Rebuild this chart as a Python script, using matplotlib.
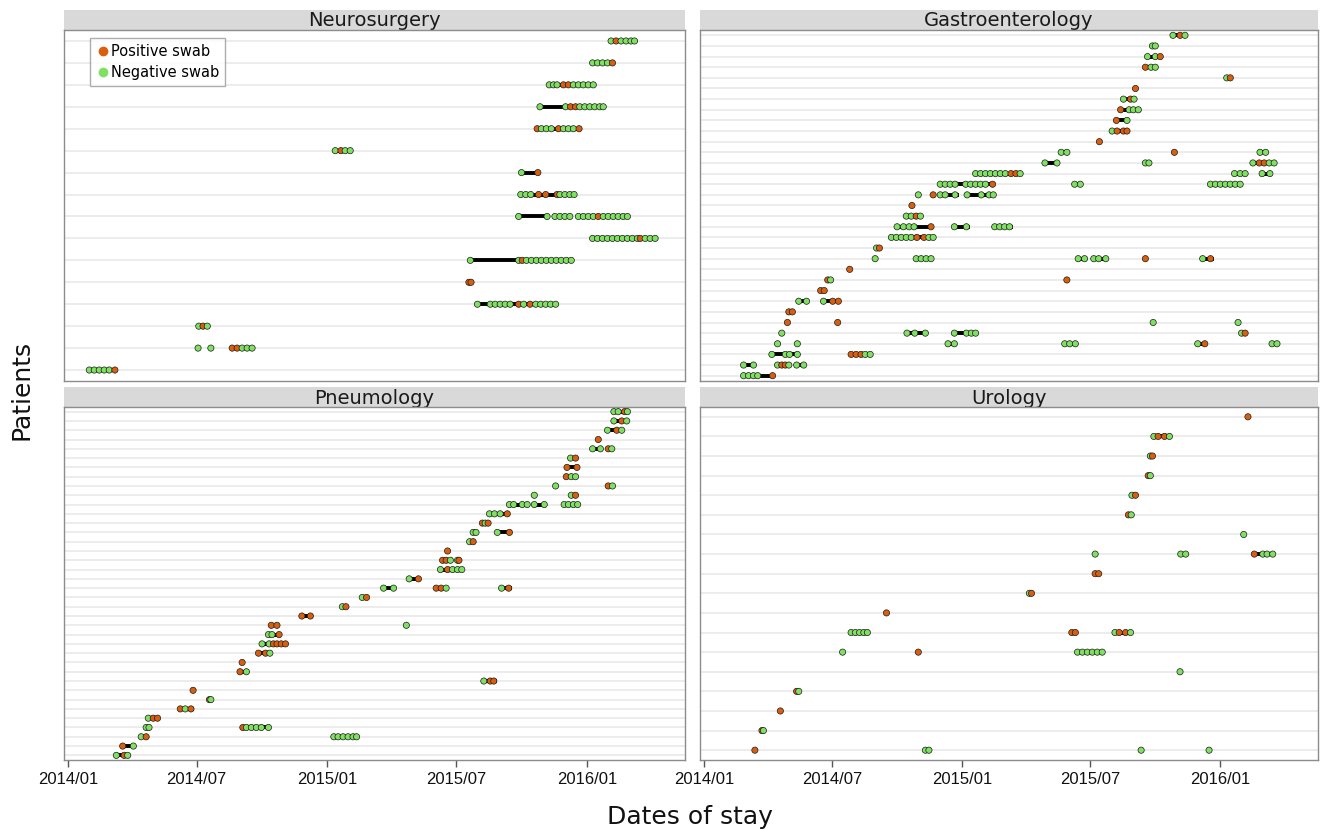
import numpy as np
import pandas as pd
import matplotlib
matplotlib.use("Agg")
import matplotlib.pyplot as plt
import matplotlib.dates as mdates
from matplotlib.lines import Line2D

# ---------------- data (days since 2014-01-01) ----------------
BASE = pd.Timestamp("2014-01-01")

# Neurosurgery
neuro_rows = 16
neuro_stays = [(1, 30, 66), (2, 231, 259), (3, 184, 196), (4, 576, 688), (6, 566, 711),
               (7, 738, 826), (8, 634, 674), (8, 684, 707), (8, 717, 787), (9, 636, 714),
               (10, 638, 663), (11, 375, 400), (12, 659, 720), (13, 663, 753),
               (14, 676, 741), (15, 736, 769), (16, 763, 798)]
neuro_pos = {1: [66], 2: [231, 238], 3: [190], 4: [634, 650], 5: [564, 567], 6: [639],
             7: [805], 8: [746], 9: [662, 672, 688], 10: [661], 11: [384],
             12: [660, 690, 719], 13: [707, 714], 14: [697, 704], 15: [766], 16: [771]}
neuro_neg = {1: [30, 37, 44, 51, 58], 2: [183, 201, 245, 252, 259], 3: [184, 196],
             4: [576, 594, 601, 608, 615, 622, 641, 658, 665, 672, 679, 686],
             6: [566, 634, 645, 652, 659, 666, 673, 680, 687, 694, 701, 708],
             7: [738, 745, 752, 759, 766, 773, 780, 787, 794, 801, 812, 819, 826],
             8: [634, 674, 685, 692, 699, 706, 718, 725, 732, 739, 753, 760, 767, 774, 781, 787],
             9: [637, 644, 651, 692, 699, 706, 712], 10: [638], 11: [376, 390, 397],
             12: [666, 673, 680, 697, 704, 711],
             13: [664, 700, 720, 727, 734, 741, 748, 753],
             14: [677, 683, 688, 711, 718, 725, 732, 739],
             15: [738, 745, 752, 759], 16: [764, 778, 785, 792, 797]}

# Gastroenterology
gastro_rows = 33
gastro_stays = [(1, 55, 99), (2, 55, 72), (2, 103, 121), (2, 130, 142), (3, 94, 134), (3, 207, 238),
                (4, 344, 358), (4, 508, 528), (4, 697, 711), (4, 801, 812), (5, 286, 317),
                (5, 353, 387), (5, 760, 765), (7, 118, 127), (8, 132, 146), (8, 168, 193),
                (9, 165, 170), (10, 175, 179), (12, 299, 324), (12, 528, 541), (12, 549, 569),
                (12, 704, 721), (13, 244, 248), (14, 263, 325), (15, 272, 324), (15, 353, 376),
                (15, 410, 437), (16, 284, 308), (18, 332, 360), (18, 370, 410), (19, 332, 411),
                (19, 524, 532), (19, 714, 759), (20, 383, 449), (20, 749, 766), (20, 787, 801),
                (21, 480, 501), (21, 624, 629), (21, 774, 808), (22, 505, 513), (22, 784, 796),
                (24, 577, 601), (25, 582, 600), (26, 587, 618), (27, 591, 610), (29, 739, 744),
                (30, 624, 638), (31, 627, 648), (32, 634, 638), (33, 662, 681)]
gastro_pos = {1: [97], 2: [110, 115], 3: [208, 215, 222], 4: [708], 5: [765], 6: [118, 189],
              7: [120, 125], 8: [182, 190], 9: [165, 170], 10: [175, 513], 11: [206],
              12: [624, 716], 13: [248], 14: [301, 311], 15: [321], 16: [300], 17: [294],
              18: [324], 19: [408], 20: [434, 441], 21: [785, 792], 22: [665], 23: [559],
              24: [584, 593, 598], 25: [583], 26: [589], 27: [603], 28: [610], 29: [744],
              30: [624], 31: [645], 33: [673]}
gastro_neg = {1: [56, 63, 70, 76], 2: [56, 70, 104, 120, 131, 141], 3: [96, 115, 121, 132, 228, 235],
              4: [104, 132, 345, 354, 510, 517, 525, 698, 803, 810],
              5: [110, 287, 298, 313, 354, 371, 378, 384, 760], 6: [635, 755],
              8: [134, 145, 169], 10: [179], 12: [242, 300, 307, 314, 321, 529, 538, 551, 558, 568, 705],
              13: [244], 14: [265, 272, 279, 286, 293, 318, 324],
              15: [273, 282, 290, 297, 354, 371, 411, 418, 425, 432], 16: [286, 293, 306],
              18: [303, 334, 341, 355, 372, 392, 403, 409],
              19: [334, 341, 348, 355, 370, 377, 384, 391, 398, 524, 532, 716, 723, 730, 737, 744, 751, 758],
              20: [384, 391, 398, 405, 412, 419, 426, 447, 750, 758, 765, 789, 800],
              21: [482, 499, 624, 629, 776, 799, 806], 22: [505, 513, 786, 794],
              24: [577], 25: [598], 26: [601, 607, 614], 27: [593, 608], 29: [739],
              30: [632, 638], 31: [627, 638], 32: [634, 638], 33: [663, 680]}

# Pneumology
pneumo_rows = 38
pneumo_stays = [(1, 66, 87), (2, 76, 94), (3, 101, 113), (3, 373, 406), (4, 110, 114), (4, 245, 284),
                (5, 111, 128), (6, 156, 177), (9, 584, 603), (10, 241, 253), (12, 266, 286),
                (13, 272, 308), (14, 280, 300), (16, 328, 344), (19, 442, 462), (19, 517, 535),
                (19, 608, 624), (20, 479, 497), (21, 522, 555), (22, 525, 542), (25, 570, 574),
                (25, 603, 624), (26, 583, 591), (27, 591, 622), (28, 620, 649), (28, 655, 673),
                (28, 697, 718), (31, 698, 717), (32, 701, 718), (34, 736, 753), (36, 757, 781),
                (37, 767, 788), (38, 767, 788)]
pneumo_pos = {1: [79], 2: [77], 3: [110], 4: [246], 5: [120, 126], 6: [158, 173], 7: [199],
              8: [176], 9: [594, 599], 10: [242], 11: [245], 12: [268, 278],
              13: [289, 294, 300, 306], 14: [297], 15: [286, 294], 16: [329, 341], 17: [391],
              18: [420], 19: [518, 525, 620], 20: [493], 21: [534], 22: [527, 532, 550],
              23: [534], 24: [570], 25: [621], 26: [583, 591], 27: [618], 29: [714],
              30: [760], 31: [701], 32: [702, 716], 33: [714], 34: [760], 35: [746],
              36: [772], 37: [779], 38: [783]}
pneumo_neg = {1: [68, 84], 2: [92], 3: [103, 374, 380, 387, 394, 401, 406], 4: [110, 114, 251, 258, 265, 272, 282],
              5: [113], 6: [165], 7: [201], 9: [585], 10: [251], 12: [284], 13: [273, 283],
              14: [282, 287], 15: [476], 17: [386], 18: [414], 19: [444, 458, 532, 610],
              20: [480], 21: [524, 541, 548, 554], 22: [538, 548], 24: [565], 25: [570, 574, 604],
              26: [587], 27: [593, 600, 608], 28: [621, 627, 639, 646, 656, 670, 698, 704, 711, 717],
              29: [656, 708], 30: [686, 766], 31: [708, 714], 33: [707], 34: [738, 749, 765],
              36: [759, 779], 37: [768, 786], 38: [768, 774, 787]}

# Urology
uro_rows = 18
uro_stays = [(1, 313, 318), (6, 527, 566), (7, 207, 232), (7, 520, 525), (7, 580, 604),
             (10, 553, 558), (11, 674, 681), (11, 777, 807), (17, 635, 660)]
uro_pos = {1: [72], 2: [82], 3: [108], 4: [131], 6: [303], 7: [520, 525, 587, 596], 8: [258],
           9: [463], 10: [553, 558], 11: [778], 13: [600], 14: [610], 15: [628], 16: [634],
           17: [642, 651], 18: [769]}
uro_neg = {1: [313, 318, 618, 714], 2: [84], 4: [134], 5: [673], 6: [196, 528, 535, 542, 549, 556, 563],
           7: [208, 214, 220, 226, 231, 581, 603], 9: [460], 11: [553, 674, 681, 790, 796, 804],
           12: [763], 13: [604], 14: [605], 15: [631], 16: [631], 17: [636, 658]}

panel_titles = ["Neurosurgery", "Gastroenterology", "Pneumology", "Urology"]
tick_dates = ["2014-01-01", "2014-07-01", "2015-01-01", "2015-07-01", "2016-01-01"]

# ---------------- styling ----------------
POS_C = "#D95F0E"
NEG_C = "#7FE062"
GRID_C = "#EBEBEB"
FRAME_C = "#8C8C8C"
STRIP_C = "#D9D9D9"

W, H = 1326, 830
fig = plt.figure(figsize=(W / 100, H / 100), dpi=100)


def px_axes(x0, y0, x1, y1):
    return fig.add_axes([x0 / W, 1 - y1 / H, (x1 - x0) / W, (y1 - y0) / H])


def to_dt(d):
    return BASE + pd.to_timedelta(np.asarray(d, dtype=float), unit="D")


xlim = (to_dt(-5.6), to_dt(868))

layout = [(64, 30, 685, 381, 10), (700, 30, 1318, 381, 10),
          (64, 407, 685, 760, 387), (700, 407, 1318, 760, 387)]
datasets = [(neuro_rows, neuro_stays, neuro_pos, neuro_neg),
            (gastro_rows, gastro_stays, gastro_pos, gastro_neg),
            (pneumo_rows, pneumo_stays, pneumo_pos, pneumo_neg),
            (uro_rows, uro_stays, uro_pos, uro_neg)]

for i, ((x0, y0, x1, y1, sy), (n, stays, pos, neg), title) in enumerate(zip(layout, datasets, panel_titles)):
    # strip
    sax = px_axes(x0, sy, x1, y0)
    sax.set_facecolor(STRIP_C)
    sax.set_xticks([]); sax.set_yticks([])
    for s in sax.spines.values():
        s.set_visible(False)
    sax.text(0.5, 0.45, title, ha="center", va="center", fontsize=14, color="#1a1a1a",
             family="DejaVu Sans", transform=sax.transAxes)

    ax = px_axes(x0, y0, x1, y1)
    ax.set_facecolor("white")
    for r in range(1, n + 1):
        ax.axhline(r, color=GRID_C, lw=1.3, zorder=0)
    for r, s, e in stays:
        ax.plot(to_dt([s, e]), [r, r], color="black", lw=2.8, solid_capstyle="butt", zorder=2)
    pts = []
    for r, days in neg.items():
        pts += [(d, r, NEG_C) for d in days]
    for r, days in pos.items():
        pts += [(d, r, POS_C) for d in days]
    pts.sort(key=lambda p: p[0])
    if pts:
        dd = [p[0] for p in pts]
        rr = [p[1] for p in pts]
        cc = [p[2] for p in pts]
        ax.scatter(to_dt(dd), rr, s=20, c=cc, edgecolors="#1a1a1a", linewidths=0.5, zorder=3)
    ax.set_ylim(0.5, n + 0.5)
    ax.set_xlim(*xlim)
    ax.set_yticks([])
    for s in ax.spines.values():
        s.set_color(FRAME_C)
        s.set_linewidth(1.0)
    ax.set_xticks(to_dt([(pd.Timestamp(t) - BASE).days for t in tick_dates]))
    if i >= 2:
        ax.xaxis.set_major_formatter(mdates.DateFormatter("%Y/%m"))
        ax.tick_params(axis="x", length=5, width=1, color="#555555", labelsize=12, pad=4,
                       labelcolor="#111111")
        for lbl in ax.get_xticklabels():
            lbl.set_family("Liberation Sans")
    else:
        ax.tick_params(axis="x", length=0, labelbottom=False)

    if i == 0:
        handles = [Line2D([], [], marker="o", ls="", color=POS_C, markersize=6, label="Positive swab"),
                   Line2D([], [], marker="o", ls="", color=NEG_C, markersize=6, label="Negative swab")]
        leg = ax.legend(handles=handles, loc="upper left", bbox_to_anchor=(26 / 621, 1 - 8 / 351),
                        fontsize=10.5, frameon=True, fancybox=False, handletextpad=0.05,
                        handlelength=1.0, borderpad=0.4, labelspacing=0.45, borderaxespad=0)
        leg.get_frame().set_edgecolor("#999999")
        leg.get_frame().set_linewidth(1.0)

fig.text(22 / W, 1 - 390 / H, "Patients", rotation=90, ha="center", va="center",
         fontsize=18, family="DejaVu Sans", color="#111111")
fig.text(690 / W, 1 - 817 / H, "Dates of stay", ha="center", va="center",
         fontsize=18, family="DejaVu Sans", color="#111111")

fig.savefig("out.png", dpi=100, facecolor="white")
